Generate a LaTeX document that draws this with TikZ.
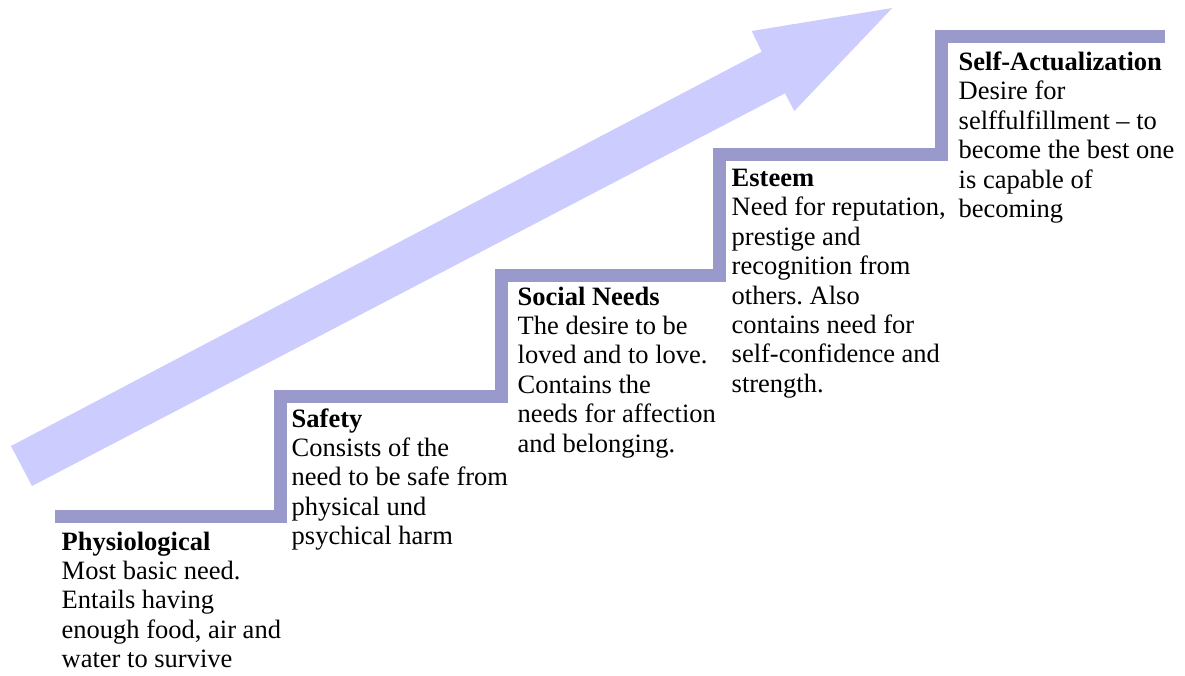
\documentclass[tikz,border=0pt]{standalone}
\usepackage{fontspec}
\setmainfont{Liberation Serif}
\frenchspacing
\definecolor{stairline}{RGB}{153,153,204}
\definecolor{arrowfill}{RGB}{204,204,255}
\newcommand{\needfont}{\fontsize{26.5pt}{29.4pt}\selectfont}
\newcommand{\needtext}[2]{\begin{tabular}[t]{@{}l@{}}\textbf{#1}\\#2\end{tabular}}
\tikzset{
  need/.style={anchor=base west, inner sep=0pt, font=\needfont},
  stairs/.style={draw=stairline, line width=13pt, line cap=butt, line join=miter},
  rising/.style={fill=arrowfill, draw=none}
}
\begin{document}
\begin{tikzpicture}[x=1pt, y=-1pt]
\useasboundingbox (0,0) rectangle (1185,675);

% broad rising arrow behind the steps
\fill[rising] (11,446) -- (761.7,51.7) -- (751.7,31) -- (892.3,8)
  -- (794.3,111) -- (785,93.3) -- (32,486) -- cycle;

% staircase of needs
\draw[stairs] (55,516.5) -- (280.5,516.5) -- (280.5,396.5) -- (501,396.5)
  -- (501,275) -- (719.5,275) -- (719.5,154.5) -- (941.5,154.5)
  -- (941.5,36.5) -- (1165,36.5);

% descriptions on each step
\node[need] (phys) at (61.5,550)
  {\needtext{Physiological}{Most basic need.\\Entails having\\enough food, air and\\water to survive}};
\node[need] (safe) at (291.5,427)
  {\needtext{Safety}{Consists of the\\need to be safe from\\physical und\\psychical harm}};
\node[need] (social) at (517.5,305)
  {\needtext{Social Needs}{The desire to be\\loved and to love.\\Contains the\\needs for affection\\and belonging.}};
\node[need] (esteem) at (731.5,186.5)
  {\needtext{Esteem}{Need for reputation,\\prestige and\\recognition from\\others. Also\\contains need for\\self-confidence and\\strength.}};
\node[need] (selfact) at (958.5,70.5)
  {\needtext{Self-Actualization}{Desire for\\selffulfillment -- to\\become the best one\\is capable of\\becoming}};
\end{tikzpicture}
\end{document}
